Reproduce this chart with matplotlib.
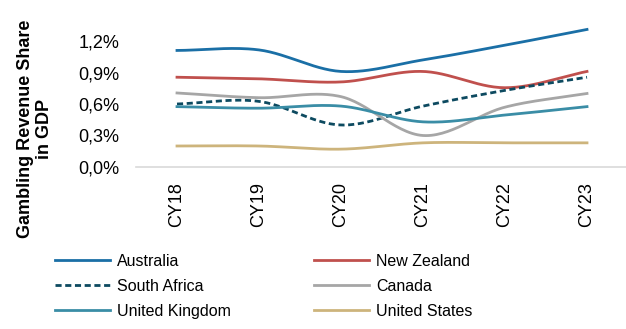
import numpy as np
import matplotlib.pyplot as plt
from matplotlib.ticker import FuncFormatter

plt.rcParams['font.family'] = ['Liberation Sans', 'DejaVu Sans']

years = ['CY18', 'CY19', 'CY20', 'CY21', 'CY22', 'CY23']

australia = [1.11, 1.115, 0.91, 1.02, 1.16, 1.31]
new_zealand = [0.855, 0.84, 0.81, 0.91, 0.755, 0.91]
south_africa = [0.60, 0.625, 0.40, 0.58, 0.73, 0.855]
canada = [0.705, 0.66, 0.67, 0.30, 0.57, 0.70]
united_kingdom = [0.575, 0.56, 0.58, 0.43, 0.495, 0.575]
united_states = [0.20, 0.20, 0.17, 0.23, 0.23, 0.23]


def smooth(y, n=30):
    # Catmull-Rom style smoothing, like Excel's "smoothed line"
    y = np.asarray(y, float)
    x = np.arange(len(y), dtype=float)
    xs, ys = [], []
    for i in range(len(y) - 1):
        p0 = y[i - 1] if i > 0 else y[i]
        p1, p2 = y[i], y[i + 1]
        p3 = y[i + 2] if i + 2 < len(y) else y[i + 1]
        t = np.linspace(0, 1, n, endpoint=False)
        m1 = (p2 - p0) / (2 if i > 0 else 1)
        m2 = (p3 - p1) / (2 if i + 2 < len(y) else 1)
        h00 = 2 * t**3 - 3 * t**2 + 1
        h10 = t**3 - 2 * t**2 + t
        h01 = -2 * t**3 + 3 * t**2
        h11 = t**3 - t**2
        xs.append(x[i] + t)
        ys.append(h00 * p1 + h10 * m1 + h01 * p2 + h11 * m2)
    xs.append([x[-1]])
    ys.append([y[-1]])
    return np.concatenate(xs), np.concatenate(ys)


fig = plt.figure(figsize=(6.26, 3.29), dpi=100)
ax = fig.add_axes([136 / 626, 1 - 167 / 329, 492 / 626, 147 / 329])

series = [
    ('Australia', australia, '#1a6fa6', '-'),
    ('New Zealand', new_zealand, '#c0504d', '-'),
    ('South Africa', south_africa, '#0d4a60', (0, (2.2, 1.3))),
    ('Canada', canada, '#a6a6a6', '-'),
    ('United Kingdom', united_kingdom, '#3a8da6', '-'),
    ('United States', united_states, '#cdb47c', '-'),
]
lines = {}
for name, vals, col, ls in series:
    xs, ys = smooth(vals)
    lines[name], = ax.plot(xs, ys, color=col, linestyle=ls, linewidth=2, label=name)

ax.set_xlim(-0.5, 5.5)
ax.set_ylim(0, 1.4)
ax.set_yticks([0, 0.3, 0.6, 0.9, 1.2])
ax.yaxis.set_major_formatter(FuncFormatter(lambda v, p: f'{v:.1f}%'.replace('.', ',')))
ax.set_xticks(range(len(years)))
ax.set_xticklabels(years, rotation=90)
ax.tick_params(length=0, labelsize=13)
ax.tick_params(axis='x', pad=11)
ax.tick_params(axis='y', pad=12)
for s in ['top', 'right', 'left']:
    ax.spines[s].set_visible(False)
ax.spines['bottom'].set_color('#d9d9d9')
ax.spines['bottom'].set_linewidth(1.2)

fig.text(35 / 626, 1 - 129 / 329, 'Gambling Revenue Share\nin GDP', rotation=90,
         ha='center', va='center', multialignment='center',
         fontsize=13, fontweight='bold', linespacing=1.2)

# row-wise legend order: matplotlib fills columns first
order = ['Australia', 'South Africa', 'United Kingdom',
         'New Zealand', 'Canada', 'United States']
fig.legend([lines[k] for k in order], order,
           loc='upper left', bbox_to_anchor=(55 / 626, 1 - 254 / 329), ncol=2,
           frameon=False, fontsize=11.5, handlelength=3.45, handletextpad=0.44,
           columnspacing=5.2, labelspacing=0.62, borderpad=0, borderaxespad=0)

fig.savefig('out.png', dpi=100)
